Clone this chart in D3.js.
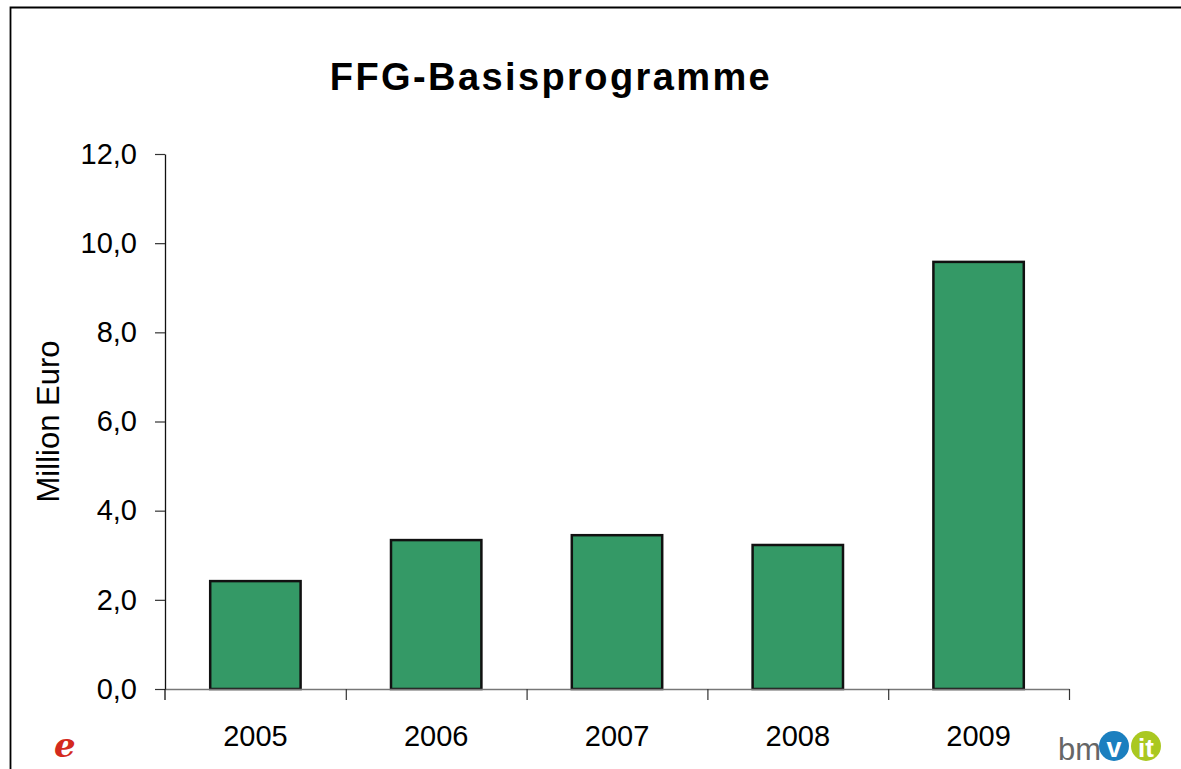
<!DOCTYPE html>
<html>
<head>
<meta charset="utf-8">
<script src="https://cdnjs.cloudflare.com/ajax/libs/d3/7.8.5/d3.min.js"></script>
<style>
body { margin: 0; background: #fff; }
svg { display: block; font-family: "Liberation Sans", Arial, sans-serif; }
</style>
</head>
<body>
<svg width="1181" height="769"></svg>
<script>
var years = ["2005", "2006", "2007", "2008", "2009"];
var values = [2.42, 3.34, 3.45, 3.23, 9.58];
var yTicks = [0, 2, 4, 6, 8, 10, 12];
var title = "FFG-Basisprogramme";
var yLabel = "Million Euro";

var svg = d3.select("svg");
var margin = {top: 154, right: 112, bottom: 80, left: 165};
var width = 1181, height = 769;

var de = d3.formatLocale({decimal: ",", thousands: ".", grouping: [3], currency: ["", " €"]});
var fmt = de.format(".1f");

// frame (top and left only)
svg.append("path")
	.attr("d", "M10.5,769 L10.5,7.5 L1181,7.5")
	.attr("fill", "none")
	.attr("stroke", "#000")
	.attr("stroke-width", 1.8);

var y = d3.scaleLinear().domain([0, 12]).range([height - margin.bottom, margin.top]);
var x = d3.scaleBand().domain(years).range([margin.left, width - margin.right])
	.paddingInner(0.5).paddingOuter(0.25);
var xb = d3.scaleLinear().domain([0, years.length]).range([margin.left, width - margin.right]);

svg.append("text")
	.attr("x", 551)
	.attr("y", 90)
	.attr("text-anchor", "middle")
	.style("font-size", "38px")
	.style("font-weight", "bold")
	.style("letter-spacing", "2.4px")
	.text(title);

// bars
svg.selectAll(".bar").data(values).enter().append("rect")
	.attr("class", "bar")
	.attr("x", function(d, i) { return x(years[i]); })
	.attr("y", function(d) { return y(d); })
	.attr("width", x.bandwidth())
	.attr("height", function(d) { return y(0) - y(d); })
	.attr("fill", "#349966")
	.attr("stroke", "#111")
	.attr("stroke-width", 2.5);

// x axis: boundary ticks
var xTickG = svg.append("g")
	.attr("transform", "translate(0," + y(0) + ")")
	.call(d3.axisBottom(xb).tickValues(d3.range(1, years.length + 1)).tickSize(11).tickSizeOuter(0).tickFormat(""));
xTickG.select(".domain").attr("stroke", "#777").attr("stroke-width", 1.5);
xTickG.selectAll(".tick line").attr("stroke", "#333").attr("stroke-width", 1.2);

// x labels
var xLab = svg.append("g")
	.attr("transform", "translate(0," + y(0) + ")")
	.call(d3.axisBottom(x).tickSize(0).tickPadding(36));
xLab.select(".domain").remove();
xLab.selectAll("text").style("font-size", "29px").attr("fill", "#000").style("font-family", "Liberation Sans, Arial, sans-serif");

// y axis
var yAx = svg.append("g")
	.attr("transform", "translate(" + margin.left + ",0)")
	.call(d3.axisLeft(y).tickValues(yTicks).tickFormat(fmt).tickSize(10).tickSizeOuter(0).tickPadding(18));
yAx.select(".domain").attr("stroke", "#111").attr("stroke-width", 1.3);
yAx.selectAll(".tick line").attr("stroke", "#333").attr("stroke-width", 1.2);
yAx.selectAll("text").style("font-size", "29px").attr("fill", "#000").style("font-family", "Liberation Sans, Arial, sans-serif");
yAx.append("line")
	.attr("x1", 0).attr("x2", 0)
	.attr("y1", y(0)).attr("y2", y(0) + 11)
	.attr("stroke", "#111").attr("stroke-width", 1.3);

svg.append("text")
	.attr("transform", "translate(59," + ((y(0) + y(12)) / 2) + ") rotate(-90)")
	.attr("text-anchor", "middle")
	.style("font-size", "31px")
	.text(yLabel);

// logos
var logoL = svg.append("g").attr("transform", "translate(54,757)");
logoL.append("text")
	.attr("x", 0).attr("y", 0)
	.style("font-family", "DejaVu Serif, serif")
	.style("font-style", "italic")
	.style("font-weight", "bold")
	.style("font-size", "34px")
	.attr("fill", "#d42a1e")
	.text("e");

var logoR = svg.append("g").attr("transform", "translate(1058,760)");
logoR.append("text")
	.attr("x", 0).attr("y", 0)
	.style("font-size", "31px")
	.attr("fill", "#666")
	.text("bm");
logoR.append("circle").attr("cx", 56).attr("cy", -14).attr("r", 15).attr("fill", "#1b7fbf");
logoR.append("text").attr("x", 56).attr("y", -3).attr("text-anchor", "middle")
	.style("font-size", "27px").style("font-weight", "bold").attr("fill", "#fff").text("v");
logoR.append("circle").attr("cx", 88).attr("cy", -14).attr("r", 15).attr("fill", "#aac820");
logoR.append("text").attr("x", 88).attr("y", -3).attr("text-anchor", "middle")
	.style("font-size", "26px").style("font-weight", "bold").attr("fill", "#fff").text("it");
</script>
</body>
</html>
